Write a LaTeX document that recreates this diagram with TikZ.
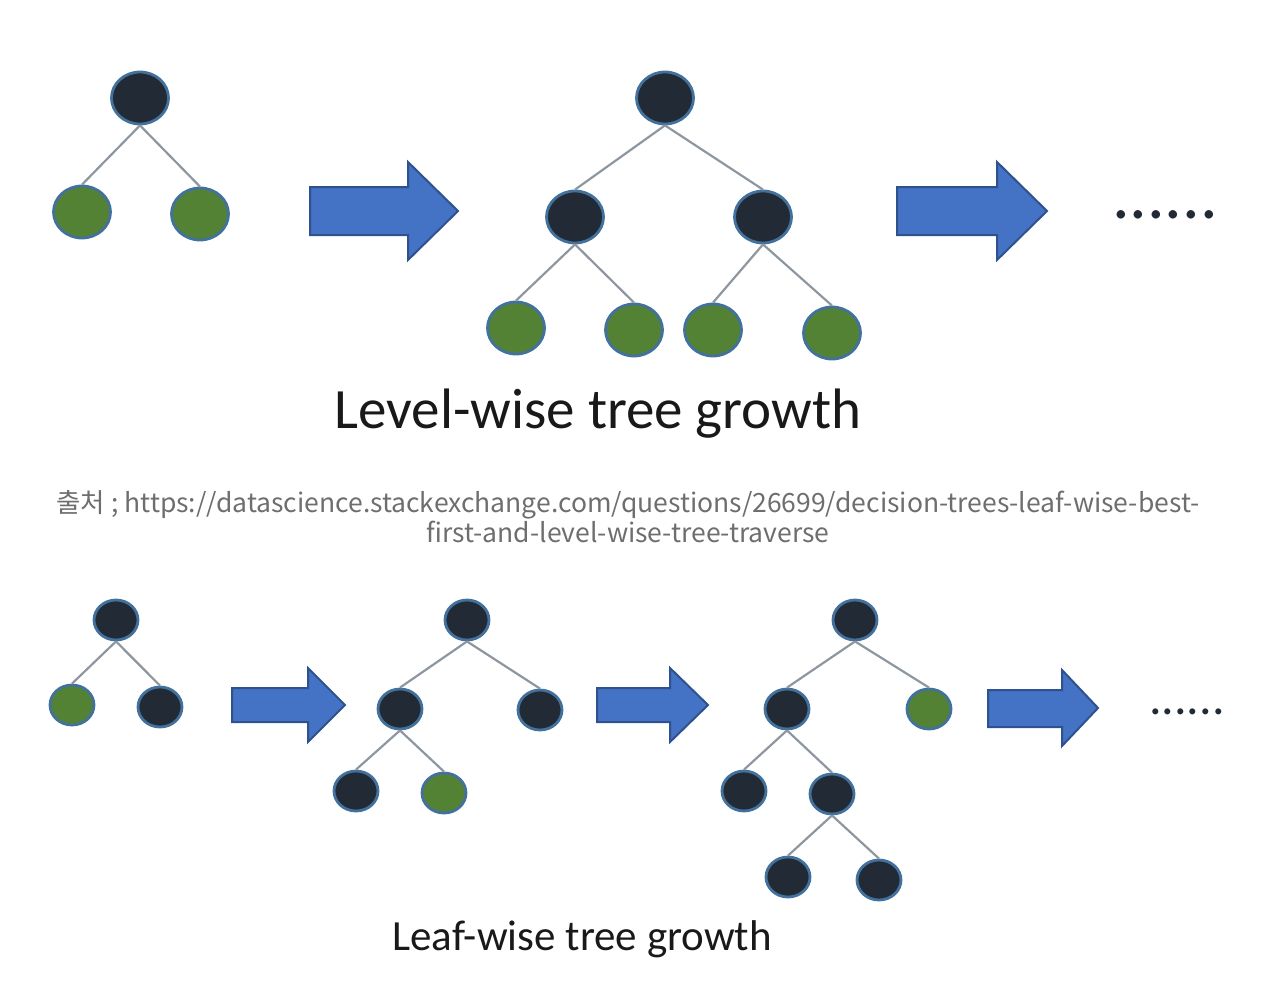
\documentclass[tikz,border=0pt]{standalone}
\usepackage{fontspec}
\setmainfont{Carlito}
\newfontfamily\krfont{Noto Sans CJK KR}
\usetikzlibrary{shapes.geometric}
\definecolor{nodedark}{HTML}{222A35}
\definecolor{leafgreen}{HTML}{548235}
\definecolor{nodeline}{HTML}{41719C}
\definecolor{edgegray}{HTML}{8E979F}
\definecolor{arrowblue}{HTML}{4472C4}
\definecolor{arrowline}{HTML}{2F528F}
\definecolor{srcgray}{HTML}{6E6E6E}
\tikzset{
  splitnode/.style={ellipse, draw=nodeline, line width=2.8pt, fill=nodedark,
    minimum width=57pt, minimum height=52pt, inner sep=0pt},
  leafnode/.style={splitnode, fill=leafgreen},
  smallnode/.style={minimum width=44pt, minimum height=40pt},
  edge/.style={draw=edgegray, line width=2.2pt},
  bigarrow/.style={fill=arrowblue, draw=arrowline, line width=2pt, line join=miter},
  title/.style={text=black!90, inner sep=0pt, anchor=base},
  moredots/.style={text=nodedark, inner sep=0pt},
  source/.style={text=srcgray, align=center, inner sep=0pt,
    font=\krfont\fontsize{26.5}{30}\selectfont}
}
\begin{document}
\begin{tikzpicture}[x=1pt,y=-1pt]
\useasboundingbox (0,0) rectangle (1276,988);
% level-wise, step 1
\node [splitnode] (a) at (140,98) {};
\node [leafnode] (a1) at (82,212) {};
\node [leafnode] (a2) at (200,214) {};
\draw [edge] (a.south) -- (a1.north);
\draw [edge] (a.south) -- (a2.north);
\draw [bigarrow] (310,187) -- (408,187) -- (408,162) -- (458,211) -- (408,260) -- (408,235) -- (310,235) -- cycle;
% level-wise, step 2
\node [splitnode] (b) at (665,98) {};
\node [splitnode] (b1) at (575,217) {};
\node [splitnode] (b2) at (763,217) {};
\node [leafnode] (b11) at (516,328) {};
\node [leafnode] (b12) at (634,330) {};
\node [leafnode] (b21) at (713,330) {};
\node [leafnode] (b22) at (832,333) {};
\draw [edge] (b.south) -- (b1.north);
\draw [edge] (b.south) -- (b2.north);
\draw [edge] (b1.south) -- (b11.north);
\draw [edge] (b1.south) -- (b12.north);
\draw [edge] (b2.south) -- (b21.north);
\draw [edge] (b2.south) -- (b22.north);
\draw [bigarrow] (897,187) -- (997,187) -- (997,162) -- (1047,211) -- (997,260) -- (997,235) -- (897,235) -- cycle;
\node [moredots, font=\fontsize{70}{70}\selectfont] (more1) at (1165,215) {......};
\node [title, font=\fontsize{57}{60}\selectfont] (lvl) at (598,428) {Level-wise tree growth};
% source
\node [source] (src) at (628,517) {출처 ; https://datascience.stackexchange.com/questions/26699/decision-trees-leaf-wise-best-\\first-and-level-wise-tree-traverse};
% leaf-wise, step 1
\node [splitnode, smallnode] (c) at (116,620) {};
\node [leafnode, smallnode] (c1) at (72,705) {};
\node [splitnode, smallnode] (c2) at (160,707) {};
\draw [edge] (c.south) -- (c1.north);
\draw [edge] (c.south) -- (c2.north);
\draw [bigarrow] (232,688) -- (308,688) -- (308,668) -- (345,705) -- (308,742) -- (308,722) -- (232,722) -- cycle;
% leaf-wise, step 2
\node [splitnode, smallnode] (d) at (467,620) {};
\node [splitnode, smallnode] (d1) at (400,709) {};
\node [splitnode, smallnode] (d2) at (540,710) {};
\node [splitnode, smallnode] (d11) at (356,791) {};
\node [leafnode, smallnode] (d12) at (444,793) {};
\draw [edge] (d.south) -- (d1.north);
\draw [edge] (d.south) -- (d2.north);
\draw [edge] (d1.south) -- (d11.north);
\draw [edge] (d1.south) -- (d12.north);
\draw [bigarrow] (597,688) -- (670,688) -- (670,668) -- (708,705) -- (670,742) -- (670,722) -- (597,722) -- cycle;
% leaf-wise, step 3
\node [splitnode, smallnode] (e) at (855,620) {};
\node [splitnode, smallnode] (e1) at (787,709) {};
\node [leafnode, smallnode] (e2) at (929,709) {};
\node [splitnode, smallnode] (e11) at (744,791) {};
\node [splitnode, smallnode] (e12) at (832,794) {};
\node [splitnode, smallnode] (e121) at (788,877) {};
\node [splitnode, smallnode] (e122) at (879,880) {};
\draw [edge] (e.south) -- (e1.north);
\draw [edge] (e.south) -- (e2.north);
\draw [edge] (e1.south) -- (e11.north);
\draw [edge] (e1.south) -- (e12.north);
\draw [edge] (e12.south) -- (e121.north);
\draw [edge] (e12.south) -- (e122.north);
\draw [bigarrow] (988,690) -- (1062,690) -- (1062,670) -- (1098,708) -- (1062,746) -- (1062,727) -- (988,727) -- cycle;
\node [moredots, font=\fontsize{50}{50}\selectfont] (more2) at (1187,712) {......};
\node [title, font=\fontsize{43}{46}\selectfont] (leaf) at (582,950) {Leaf-wise tree growth};
\end{tikzpicture}
\end{document}
